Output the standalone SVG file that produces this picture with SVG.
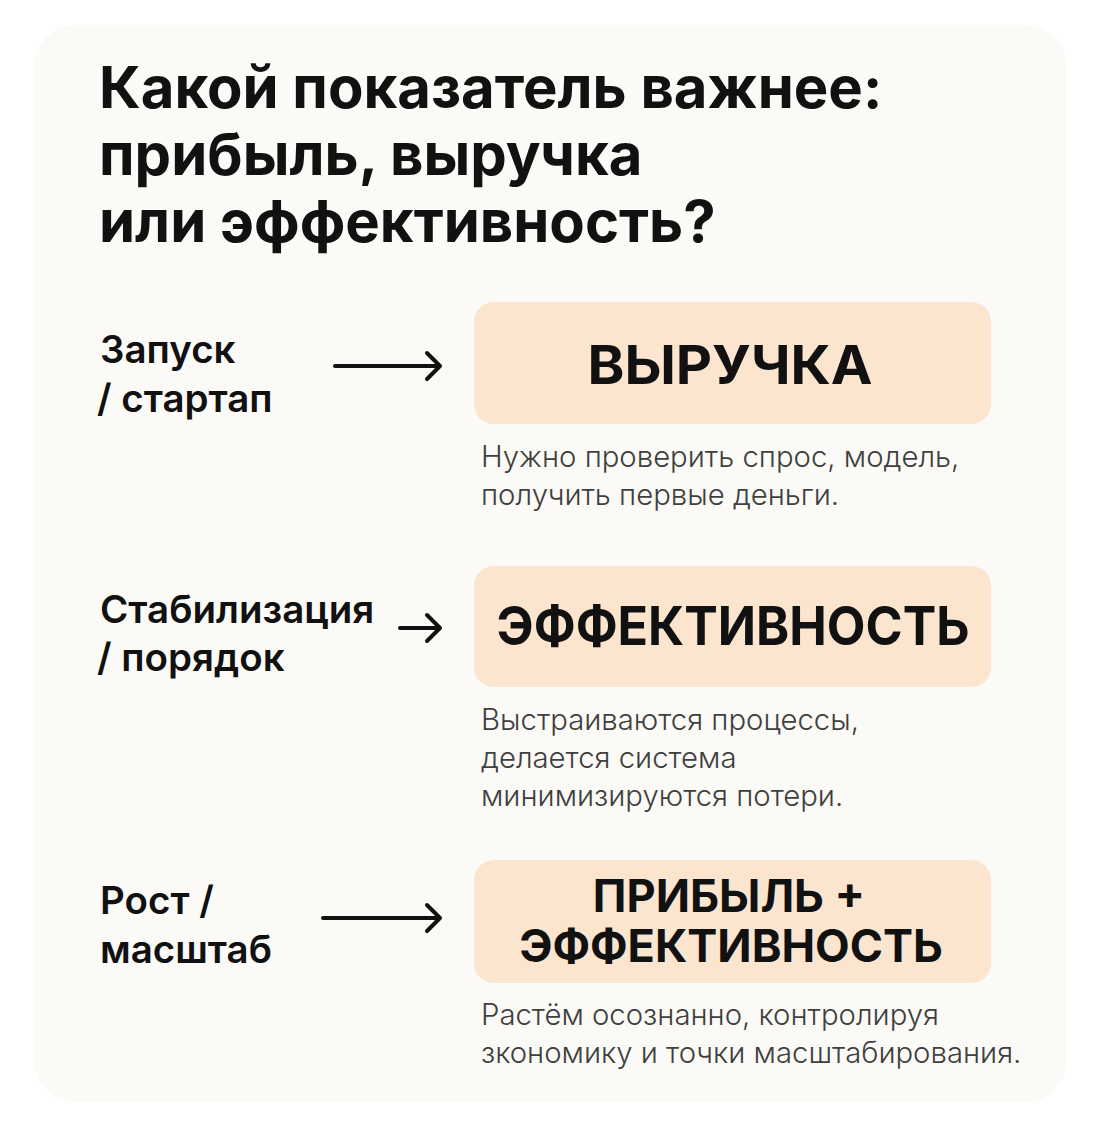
<svg xmlns="http://www.w3.org/2000/svg" width="1115" height="1146" viewBox="0 0 1115 1146">
<style>
.title{font-family:Inter,"Liberation Sans",sans-serif;font-weight:700;font-size:58px;fill:#111}
.lab{font-family:Inter,"Liberation Sans",sans-serif;font-weight:600;font-size:38.5px;fill:#111}
.box{fill:#fbe5cf}
.big{font-family:Inter,"Liberation Sans",sans-serif;font-weight:700;font-size:53px;fill:#111;text-anchor:middle}
.big3{font-family:Inter,"Liberation Sans",sans-serif;font-weight:700;font-size:45px;fill:#111;text-anchor:middle}
.desc{font-family:Inter,"Liberation Sans",sans-serif;font-weight:300;font-size:29.3px;fill:#3f3f3f}
.arr{stroke:#111;stroke-width:4;fill:none;stroke-linecap:round;stroke-linejoin:round}
</style>
<rect width="1115" height="1146" fill="#ffffff"/>
<rect x="34" y="25" width="1033" height="1077" rx="42" fill="#fbfaf6"/>
<g id="title">
<text class="title" x="99" y="108">Какой показатель важнее:</text>
<text class="title" x="99" y="175">прибыль, выручка</text>
<text class="title" x="99" y="242">или эффективность?</text>
</g>
<g id="label1"><text class="lab" x="100" y="363">Запуск</text><text class="lab" x="97" y="412">/ стартап</text></g>
<g id="label2"><text class="lab" x="100" y="623">Стабилизация</text><text class="lab" x="97" y="671">/ порядок</text></g>
<g id="label3"><text class="lab" x="100" y="914">Рост /</text><text class="lab" x="100" y="963">масштаб</text></g>
<g id="node1"><rect class="box" x="474" y="302" width="517" height="122" rx="20"/><text class="big" x="730" y="384" textLength="285" lengthAdjust="spacingAndGlyphs">ВЫРУЧКА</text>
<text class="desc" x="481" y="467">Нужно проверить спрос, модель,</text><text class="desc" x="481" y="505">получить первые деньги.</text></g>
<g id="node2"><rect class="box" x="474" y="566" width="517" height="121" rx="20"/><text class="big" x="733" y="645" textLength="473" lengthAdjust="spacingAndGlyphs">ЭФФЕКТИВНОСТЬ</text>
<text class="desc" x="481" y="730">Выстраиваются процессы,</text><text class="desc" x="481" y="768">делается система</text><text class="desc" x="481" y="806">минимизируются потери.</text></g>
<g id="node3"><rect class="box" x="474" y="860" width="517" height="123" rx="20"/><text class="big3" x="729" y="912">ПРИБЫЛЬ +</text><text class="big3" x="731" y="962">ЭФФЕКТИВНОСТЬ</text>
<text class="desc" x="481" y="1025">Растём осознанно, контролируя</text><text class="desc" x="481" y="1063">зкономику и точки масштабирования.</text></g>
<g id="connectors">
<path class="arr" d="M335 366H438M427 353L440 366L427 379"/>
<path class="arr" d="M400 628H438M427 615L440 628L427 641"/>
<path class="arr" d="M323 918H438M427 905L440 918L427 931"/>
</g>
</svg>
